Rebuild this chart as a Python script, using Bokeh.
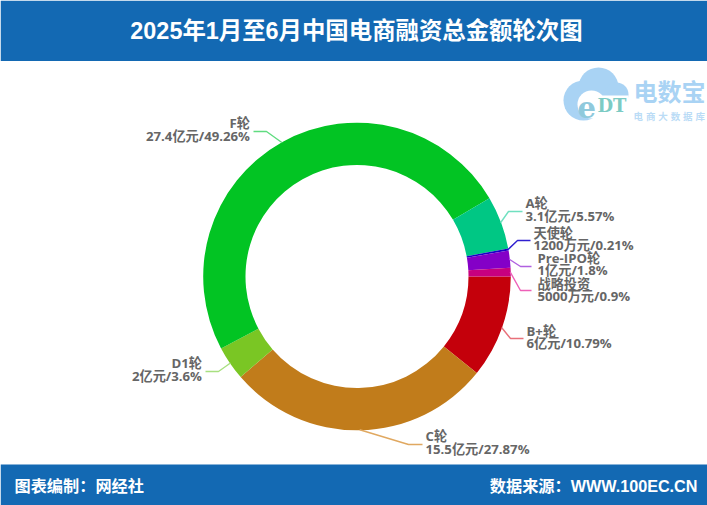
from math import cos, sin, pi
from bokeh.core.properties import value
from bokeh.plotting import figure
from bokeh.models import Range1d
from bokeh.embed import file_html
from bokeh.resources import INLINE

# ---- data ----
TITLE = "2025年1月至6月中国电商融资总金额轮次图"
FOOT_LEFT = "图表编制：网经社"
FOOT_RIGHT = "数据来源：WWW.100EC.CN"
names = ["B+轮", "C轮", "D1轮", "F轮", "A轮", "天使轮", "Pre-IPO轮", "战略投资"]
values = [6, 15.5, 2, 27.4, 3.1, 0.12, 1, 0.5]
amounts = ["6亿元", "15.5亿元", "2亿元", "27.4亿元", "3.1亿元", "1200万元", "1亿元", "5000万元"]
percents = ["10.79%", "27.87%", "3.6%", "49.26%", "5.57%", "0.21%", "1.8%", "0.9%"]
colors = ["#C4000B", "#C17C1B", "#7AC624", "#02C423", "#00C784", "#1A00C7", "#8400C7", "#C7007F"]
leader_colors = ["#E8707A", "#E0A860", "#A8E080", "#60DC80", "#70E0C0", "#3020D0", "#B060E0", "#EE60B8"]

W, H = 707, 505
CX, CY, R_OUT, R_IN = 356.5, 276, 153.8, 111.5
BLUE = "#1369B3"
LABEL_FONT = value("'Open Sans', 'Noto Sans CJK SC', sans-serif")
HEAD_FONT = value("'Liberation Sans', 'Noto Sans CJK SC', sans-serif")
CJK_FONT = value("'Noto Sans CJK SC'")
SERIF_FONT = value("'DejaVu Serif'")

# per-slice label layout, same order as names
elbow = [(510, 338), (408, 444), (218, 371), (266, 131), (508, 211), (517, 240), (520, 266), (520, 290)]
leader_end = [(523, 338), (422, 444), (205, 371), (253, 131), (522, 211), (530, 240), (531, 266), (531, 290)]
text_x = [526, 425, 201.5, 249.5, 525, 533, 537, 537]
line1_y = [330, 435, 362, 122, 202, 232, 257, 283]
line2_y = [342, 448, 375, 135, 215, 244, 269, 295]
align = ["left", "left", "right", "right", "left", "left", "left", "left"]


def Y(y):
    return H - y


p = figure(width=W, height=H, x_range=Range1d(0, W), y_range=Range1d(0, H),
           output_backend="svg", toolbar_location=None, min_border=0,
           outline_line_color=None, background_fill_color="white", border_fill_color="white")
p.axis.visible = False
p.grid.visible = False

# bands
p.quad(left=0, right=W, top=Y(0), bottom=Y(60.5), fill_color=BLUE, line_color=None)
p.quad(left=0, right=W, top=Y(464), bottom=Y(H), fill_color=BLUE, line_color=None)
p.text(x=[356], y=[Y(30)], text=[TITLE], text_color="white", text_font=HEAD_FONT, text_font_size="23.4px",
       text_font_style="bold", text_align="center", text_baseline="middle")
p.text(x=[14], y=[Y(485)], text=[FOOT_LEFT], text_color="white", text_font=HEAD_FONT, text_font_size="16.2px",
       text_font_style="bold", text_align="left", text_baseline="middle")
p.text(x=[697], y=[Y(485)], text=[FOOT_RIGHT], text_color="white", text_font=HEAD_FONT, text_font_size="16.2px",
       text_font_style="bold", text_align="right", text_baseline="middle")

# watermark logo
LOGO = "#A9D3F4"
p.circle(x=[583, 598, 616], y=[Y(100), Y(87), Y(94)], radius=[20, 20, 12], fill_color=LOGO, line_color=None)
p.quad(left=583, right=616, top=Y(95), bottom=Y(118), fill_color=LOGO, line_color=None)
p.circle(x=[591], y=[Y(104)], radius=[14], fill_color="white", line_color=None)
p.quad(left=592, right=628, top=Y(95), bottom=Y(120), fill_color="white", line_color=None)
p.text(x=[577], y=[Y(106)], text=["e"], text_color="#8FC9DC", text_font=SERIF_FONT, text_font_size="29px",
       text_font_style="bold", text_align="left", text_baseline="middle")
p.text(x=[597], y=[Y(105)], text=["DT"], text_color="#7CCBC4", text_font=SERIF_FONT, text_font_size="18px",
       text_font_style="bold", text_align="left", text_baseline="middle")
p.text(x=[633], y=[Y(90)], text=["电数宝"], text_color=LOGO, text_font=CJK_FONT, text_font_size="24px",
       text_font_style="bold", text_align="left", text_baseline="middle")
small_logo = "电商大数据库"
p.text(x=[633 + 12.4 * i for i in range(len(small_logo))], y=[Y(115)] * len(small_logo), text=list(small_logo),
       text_color="#BBDCF6", text_font=CJK_FONT, text_font_size="9.5px",
       text_font_style="bold", text_align="left", text_baseline="middle")

# ring: clockwise from 3 o'clock
total = sum(values)
a = 0.0
starts, ends, mids = [], [], []
for v in values:
    b = a - v / total * 2 * pi
    starts.append(a)
    ends.append(b)
    mids.append((a + b) / 2)
    a = b
p.annular_wedge(x=CX, y=Y(CY), inner_radius=R_IN, outer_radius=R_OUT, start_angle=starts, end_angle=ends,
                direction="clock", fill_color=colors, line_color=None)

# leaders and labels
for i, name in enumerate(names):
    m = mids[i]
    sx, sy = CX + (R_OUT - 0.5) * cos(m), Y(CY) + (R_OUT - 0.5) * sin(m)
    p.line([sx, elbow[i][0], leader_end[i][0]], [sy, Y(elbow[i][1]), Y(leader_end[i][1])],
           line_color=leader_colors[i], line_width=1.4)
    p.text(x=[text_x[i]], y=[Y(line1_y[i])], text=[name], text_color="#666666", text_font=LABEL_FONT,
           text_font_size="13.2px", text_font_style="bold", text_align=align[i], text_baseline="middle")
    p.text(x=[text_x[i]], y=[Y(line2_y[i])], text=[f"{amounts[i]}/{percents[i]}"], text_color="#666666",
           text_font=LABEL_FONT, text_font_size="13.2px", text_font_style="bold", text_align=align[i],
           text_baseline="middle")

open("out.html", "w").write(file_html(p, INLINE))
